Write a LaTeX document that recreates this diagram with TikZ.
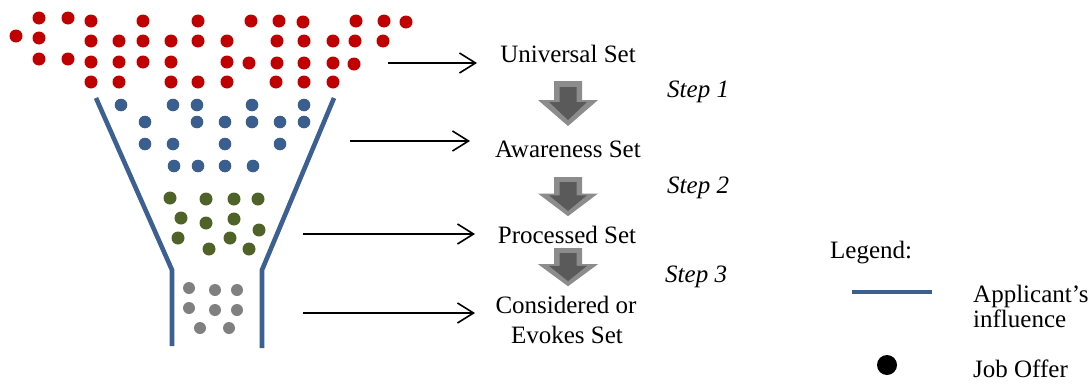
\documentclass[tikz,border=0pt]{standalone}
\usepackage{fontspec}
\setmainfont{Liberation Serif}
\usetikzlibrary{arrows.meta}
\definecolor{funnelblue}{RGB}{60,96,145}
\definecolor{dotred}{RGB}{192,0,0}
\definecolor{dotblue}{RGB}{58,95,142}
\definecolor{dotgreen}{RGB}{79,98,40}
\definecolor{dotgrey}{RGB}{128,128,128}
\definecolor{arrowouter}{RGB}{140,140,140}
\definecolor{arrowinner}{RGB}{90,90,90}
\tikzset{
  label/.style={inner sep=0pt, font=\fontsize{25}{30}\selectfont},
  steplabel/.style={label, font=\fontsize{25}{30}\selectfont\itshape},
  funnel/.style={draw=funnelblue, line width=4.6pt},
  pointer/.style={draw=black, line width=1.6pt,
    -{Straight Barb[length=16pt,width=20pt,line width=1.6pt]}},
  blockarrow/.pic={
    \fill[arrowouter] (-14,0) -- (14,0) -- (14,19) -- (30,19) -- (0,45)
      -- (-30,19) -- (-14,19) -- cycle;
    \fill[arrowinner] (-8.5,6) -- (8.5,6) -- (8.5,21) -- (19,21) -- (0,39)
      -- (-19,21) -- (-8.5,21) -- cycle;
  }
}
\begin{document}
\begin{tikzpicture}[x=1pt,y=-1pt]
\useasboundingbox (0,0) rectangle (1090,383);

% funnel walls
\draw[funnel] (96,98) -- (172,270) -- (172,346);
\draw[funnel] (334,98) -- (262,270) -- (262,348);

% job offers at each stage
\foreach \p in {(39,18),(68,18),(91,21),(143,21),(198,21),(251,21),(279,21),(303,22),(356,21),(384,21),(406,22),
  (16,36),(39,38),(91,41),(119,41),(143,41),(171,41),(198,41),(227,41),(277,41),(304,41),(333,41),(355,41),(383,41),
  (39,59),(68,59),(91,62),(119,62),(143,62),(171,62),(227,62),(249,63),(277,63),(304,63),(333,63),(354,64),
  (91,82),(119,82),(171,82),(198,82),(227,82),(276,82),(304,82),(333,82)}
  \fill[dotred] \p circle[radius=6.5];
\foreach \p in {(121,105),(173,105),(197,105),(252,105),(304,105),
  (145,122),(197,122),(225,122),(252,122),(280,122),(304,122),
  (145,144),(173,144),(225,144),(280,144),
  (174,166),(198,166),(225,166),(253,166)}
  \fill[dotblue] \p circle[radius=6.3];
\foreach \p in {(170,198),(206,199),(234,199),(258,199),
  (181,218),(206,223),(234,219),(259,230),
  (178,238),(230,238),(209,249),(249,249)}
  \fill[dotgreen] \p circle[radius=6.5];
\foreach \p in {(189,288),(215,290),(237,290),(189,308),(215,310),(237,310),(200,328),(229,328)}
  \fill[dotgrey] \p circle[radius=6];

% set names
\node[label, anchor=base] (universal) at (568,62) {Universal Set};
\node[label, anchor=base] (awareness) at (568,157) {Awareness Set};
\node[label, anchor=base] (processed) at (567,243) {Processed Set};
\node[label, anchor=base] (considered) at (566,313) {Considered or};
\node[label, anchor=base] (evokes) at (567,343) {Evokes Set};

% steps
\pic at (568,81) {blockarrow};
\pic[yscale=0.87] at (568,177) {blockarrow};
\pic[yscale=0.85] at (568,248) {blockarrow};
\node[steplabel, anchor=base west] (step1) at (667,97) {Step 1};
\node[steplabel, anchor=base west] (step2) at (667,193) {Step 2};
\node[steplabel, anchor=base west] (step3) at (665,282) {Step 3};

% pointers from the funnel to the set names
\coordinate (p1s) at (388,63);  \coordinate (p1e) at (477,63);
\coordinate (p2s) at (350,141); \coordinate (p2e) at (470,141);
\coordinate (p3s) at (303,234); \coordinate (p3e) at (475,234);
\coordinate (p4s) at (303,313); \coordinate (p4e) at (475,313);
\draw[pointer] (p1s) -- (p1e);
\draw[pointer] (p2s) -- (p2e);
\draw[pointer] (p3s) -- (p3e);
\draw[pointer] (p4s) -- (p4e);

% legend
\node[label, anchor=base west] (legend) at (830,258) {Legend:};
\coordinate (lgs) at (852,292); \coordinate (lge) at (932,292);
\draw[funnelblue, line width=4.6pt] (lgs) -- (lge);
\node[label, anchor=base west] (applicant) at (973,302) {Applicant’s};
\node[label, anchor=base west] (influence) at (973,327) {influence};
\fill[black] (887,365) circle[radius=10];
\node[label, anchor=base west] (joboffer) at (973,377) {Job Offer};
\end{tikzpicture}
\end{document}
